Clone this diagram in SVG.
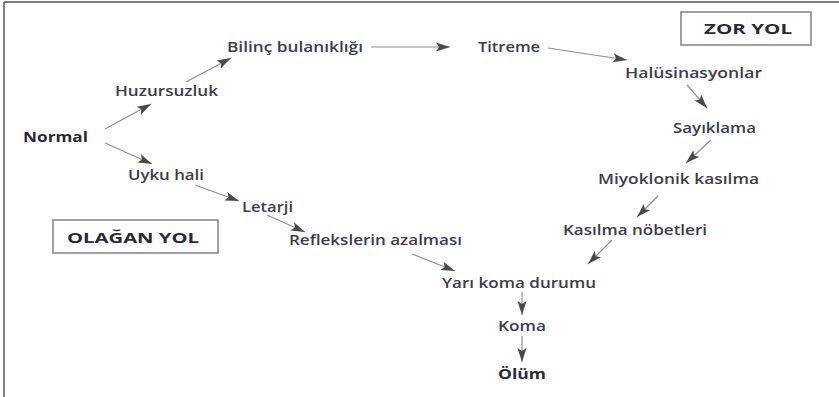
<svg xmlns="http://www.w3.org/2000/svg" width="839" height="397" viewBox="0 0 839 397">
<style>
  .t { font-family: "Open Sans", "Liberation Sans", sans-serif; font-size: 14.5px; font-weight: 600; fill: #3c3c4a; }
  .b { font-weight: 700; fill: #2a2a36; }
  .c { stroke: #8e8e8e; stroke-width: 1.2; fill: none; marker-end: url(#ah); }
  .box { fill: #ffffff; stroke: #8a8a8a; stroke-width: 1.6; }
</style>
<defs>
  <marker id="ah" markerUnits="userSpaceOnUse" markerWidth="15" markerHeight="10" refX="14" refY="5" orient="auto">
    <path d="M0,0.5 L14,5 L0,9.5 L3,5 Z" fill="#4a4a4a"/>
  </marker>
</defs>
<rect x="0" y="0" width="839" height="397" fill="#ffffff"/>
<g id="frame">
  <line x1="4" y1="2" x2="4" y2="397" stroke="#555" stroke-width="1.5"/>
  <line x1="4" y1="2" x2="839" y2="2" stroke="#555" stroke-width="1.5"/>
</g>
<g id="connectors">
  <line class="c" x1="105" y1="129" x2="151" y2="104"/>
  <line class="c" x1="186" y1="82" x2="231" y2="58"/>
  <line class="c" x1="105" y1="143" x2="152" y2="164"/>
  <line class="c" x1="195" y1="185" x2="239" y2="201"/>
  <line class="c" x1="267" y1="215" x2="305" y2="232"/>
  <line class="c" x1="412" y1="254" x2="455" y2="271"/>
  <line class="c" x1="371" y1="47" x2="450" y2="47"/>
  <line class="c" x1="548" y1="48" x2="627" y2="60"/>
  <line class="c" x1="687" y1="85" x2="707" y2="108"/>
  <line class="c" x1="711" y1="140" x2="686" y2="163"/>
  <line class="c" x1="658" y1="196" x2="637" y2="217"/>
  <line class="c" x1="612" y1="240" x2="588" y2="264"/>
  <line class="c" x1="522" y1="292" x2="522" y2="315"/>
  <line class="c" x1="522" y1="336" x2="522" y2="362"/>
</g>
<g id="normal"><text class="t b" x="23" y="141.5" textLength="65" lengthAdjust="spacingAndGlyphs">Normal</text></g>
<g id="huzursuzluk"><text class="t" x="115" y="95.5" textLength="103" lengthAdjust="spacingAndGlyphs">Huzursuzluk</text></g>
<g id="bilinc"><text class="t" x="227" y="52" textLength="136" lengthAdjust="spacingAndGlyphs">Bilinç bulanıklığı</text></g>
<g id="titreme"><text class="t" x="478" y="52" textLength="62" lengthAdjust="spacingAndGlyphs">Titreme</text></g>
<g id="halusinasyonlar"><text class="t" x="625" y="77.5" textLength="137" lengthAdjust="spacingAndGlyphs">Halüsinasyonlar</text></g>
<g id="sayiklama"><text class="t" x="673" y="132.5" textLength="83" lengthAdjust="spacingAndGlyphs">Sayıklama</text></g>
<g id="miyoklonik"><text class="t" x="598" y="183.5" textLength="161" lengthAdjust="spacingAndGlyphs">Miyoklonik kasılma</text></g>
<g id="kasilma"><text class="t" x="563" y="234.5" textLength="144" lengthAdjust="spacingAndGlyphs">Kasılma nöbetleri</text></g>
<g id="yarikoma"><text class="t" x="442" y="287.5" textLength="154" lengthAdjust="spacingAndGlyphs">Yarı koma durumu</text></g>
<g id="koma"><text class="t" x="498" y="331" textLength="48" lengthAdjust="spacingAndGlyphs">Koma</text></g>
<g id="olum"><text class="t b" x="498" y="379" textLength="48" lengthAdjust="spacingAndGlyphs">Ölüm</text></g>
<g id="uykuhali"><text class="t" x="128" y="180" textLength="76" lengthAdjust="spacingAndGlyphs">Uyku hali</text></g>
<g id="letarji"><text class="t" x="242" y="211.5" textLength="51" lengthAdjust="spacingAndGlyphs">Letarji</text></g>
<g id="refleks"><text class="t" x="289" y="245" textLength="173" lengthAdjust="spacingAndGlyphs">Reflekslerin azalması</text></g>
<g id="olaganyol">
  <rect class="box" x="53" y="220" width="165" height="33"/>
  <text class="t b" x="67" y="242.5" textLength="132" lengthAdjust="spacingAndGlyphs">OLAĞAN YOL</text>
</g>
<g id="zoryol">
  <rect class="box" x="681" y="12" width="130" height="33"/>
  <text class="t b" x="704" y="34" textLength="88" lengthAdjust="spacingAndGlyphs">ZOR YOL</text>
</g>
</svg>
